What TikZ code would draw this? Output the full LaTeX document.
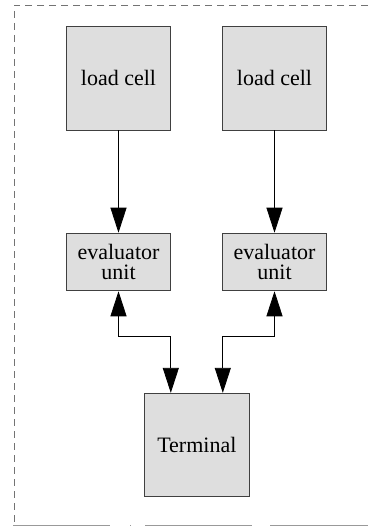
\documentclass[tikz,border=0pt]{standalone}
\usepackage{fontspec}
\setmainfont{Liberation Serif}
\newfontfamily\boxfont{Liberation Serif}
\usetikzlibrary{arrows.meta,calc}
\begin{document}
\begin{tikzpicture}[x=1pt,y=-1pt,
  box/.style={draw=black!75,fill=black!13,line width=0.8pt,inner sep=0pt,font=\boxfont\fontsize{22}{20}\selectfont,align=center},
  conn/.style={line width=0.8pt,black},
  >={Triangle[length=25pt,width=16pt]}]
\useasboundingbox (0,0) rectangle (368,526);
\draw[black!55,line width=0.9pt,dash pattern=on 7pt off 5pt] (368,5) -- (14,5) -- (14,526);
\draw[black!40,line width=0.9pt,dash pattern=on 97pt off 20pt on 1pt off 14pt on 107pt off 18pt on 100pt] (13,525) -- (368,525);
\node[box,minimum width=104.4pt,minimum height=104pt] (lc1) at (118.5,78) {load cell};
\node[box,minimum width=104.4pt,minimum height=104pt] (lc2) at (274.5,78) {load cell};
\node[box,minimum width=104.4pt,minimum height=57.7pt] (ev1) at (118.5,262) {evaluator\\unit};
\node[box,minimum width=104.4pt,minimum height=57.7pt] (ev2) at (274.5,262) {evaluator\\unit};
\node[box,minimum width=105pt,minimum height=103.4pt] (term) at (196.8,445) {Terminal};
\coordinate (t1) at ($(term.north)+(-26,0)$);
\coordinate (t2) at ($(term.north)+(26,0)$);
\draw[conn,->] (lc1) -- (ev1);
\draw[conn,->] (lc2) -- (ev2);
\draw[conn,<->] (ev1.south) -- (ev1.south |- 0,336) -| (t1);
\draw[conn,<->] (ev2.south) -- (ev2.south |- 0,336) -| (t2);
\end{tikzpicture}
\end{document}
